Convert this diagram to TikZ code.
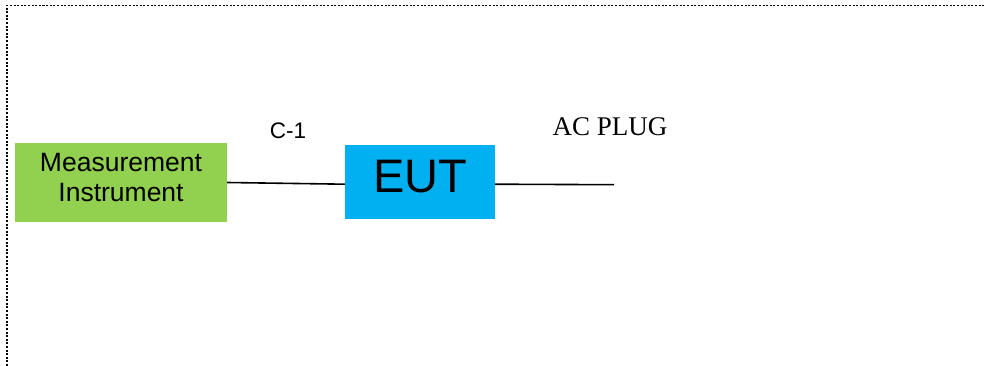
\documentclass[tikz,border=0pt]{standalone}
\usepackage{fontspec}
\usepackage{tikz}
\newfontfamily\arialfont{Liberation Sans}
\newfontfamily\timesfont{Liberation Serif}
\definecolor{mgreen}{HTML}{92D050}
\definecolor{eutblue}{HTML}{00B0F0}
\def\wire{\draw[line width=1.6pt]}
\tikzset{
  box/.style={inner sep=0pt,align=center,font=\arialfont},
  frame/.style={line width=1.5pt,dash pattern=on 2pt off 1.6pt}
}

\begin{document}
\begin{tikzpicture}[x=1pt,y=-1pt]
                \useasboundingbox (0,0) rectangle (984,366);
                \draw[frame] (7,366) -- (7,5.5) -- (984,5.5);
                \node[box,fill=mgreen,minimum width=212pt,minimum height=78pt,
                      text depth=10pt,font=\arialfont\fontsize{26.5}{30}\selectfont]
                      (meas) at (121,182.5) {Measurement\\Instrument};
                \node[box,fill=eutblue,minimum width=150pt,minimum height=74pt,
                      text depth=11pt,font=\arialfont\fontsize{47}{50}\selectfont]
                      (eut) at (420,182.2) {EUT};
                \coordinate (plug) at (614,184.7);
                \node[anchor=base,font=\arialfont\fontsize{22.5}{26}\selectfont]
                      (c1) at (288,138.3) {C-1};
                \node[anchor=base,font=\timesfont\fontsize{27}{30}\selectfont]
                      (ac) at (610,136) {AC PLUG};
                \wire (meas.east) -- ([yshift=-2pt]eut.west);
                \wire ([yshift=-2pt]eut.east) -- (plug);
            \end{tikzpicture}
\end{document}
